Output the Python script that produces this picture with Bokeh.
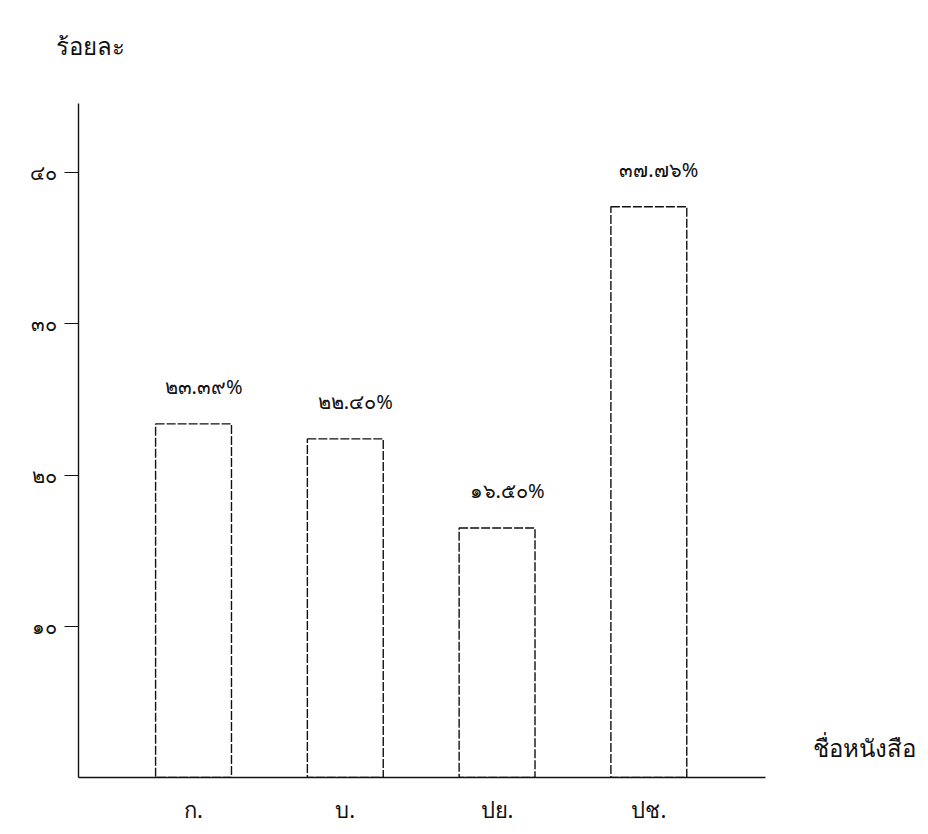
from bokeh.plotting import figure
from bokeh.models import Range1d, FixedTicker, Label, ColumnDataSource
from bokeh.embed import file_html
from bokeh.resources import INLINE
from bokeh.core.properties import value

books = ["ก.", "บ.", "ปย.", "ปช."]
percents = [23.39, 22.40, 16.50, 37.76]
bar_labels = ["๒๓.๓๙%", "๒๒.๔๐%", "๑๖.๕๐%", "๓๗.๗๖%"]
y_ticks = [10, 20, 30, 40]
y_tick_labels = ["๑๐", "๒๐", "๓๐", "๔๐"]
y_title = "ร้อยละ"
x_title = "ชื่อหนังสือ"

FONT = "Noto Sans"

pos = list(range(1, len(books) + 1))
src = ColumnDataSource(dict(pos=pos, pct=percents, lab=bar_labels))

X0, X_AXIS_END, X1 = 0.242, 4.771, 5.79
Y_AXIS_END, Y1 = 44.6, 47.1

p = figure(width=920, height=826, output_backend="svg", toolbar_location=None,
           x_range=Range1d(X0, X1), y_range=Range1d(0, Y1),
           min_border_left=78, min_border_right=0, min_border_top=65, min_border_bottom=48)
p.outline_line_color = None
p.xgrid.grid_line_color = None
p.ygrid.grid_line_color = None
p.background_fill_color = "white"

p.title.text = y_title
p.title.align = "left"
p.title.offset = -23
p.title.text_font = FONT
p.title.text_font_size = "24px"
p.title.text_font_style = "normal"
p.title.text_color = "#111111"
p.title.standoff = 8

p.vbar(x="pos", top="pct", width=0.5, source=src, fill_color="white",
       line_color="#111111", line_width=1.4, line_dash="9 2")

p.text(x="pos", y="pct", text="lab", source=src, text_align="center",
       text_baseline="bottom", y_offset=-24, x_offset=10,
       text_font=value(FONT), text_font_size="20px", text_color="#111111")

ya = p.yaxis[0]
ya.bounds = (0, Y_AXIS_END)
ya.ticker = FixedTicker(ticks=y_ticks)
ya.major_label_overrides = {t: l for t, l in zip(y_ticks, y_tick_labels)}
ya.major_tick_out = 14
ya.major_tick_in = 0
ya.minor_tick_line_color = None
ya.major_label_standoff = 8
ya.major_label_text_font = FONT
ya.major_label_text_font_size = "20px"
ya.major_label_text_color = "#111111"
ya.axis_line_color = "#111111"
ya.axis_line_width = 1.4
ya.major_tick_line_color = "#111111"

xa = p.xaxis[0]
xa.bounds = (X0, X_AXIS_END)
xa.ticker = FixedTicker(ticks=pos)
xa.major_label_overrides = {t: l for t, l in zip(pos, books)}
xa.major_tick_in = 0
xa.major_tick_out = 0
xa.minor_tick_line_color = None
xa.major_label_standoff = 16
xa.major_label_text_font = FONT
xa.major_label_text_font_size = "22px"
xa.major_label_text_color = "#111111"
xa.axis_line_color = "#111111"
xa.axis_line_width = 1.4

# screen units are measured from the frame's bottom-left corner
p.add_layout(Label(x=734, y=30, x_units="screen", y_units="screen", text=x_title,
                   text_font=FONT, text_font_size="24px",
                   text_color="#111111", text_baseline="middle", text_align="left"))

open("out.html", "w").write(file_html(p, INLINE))
